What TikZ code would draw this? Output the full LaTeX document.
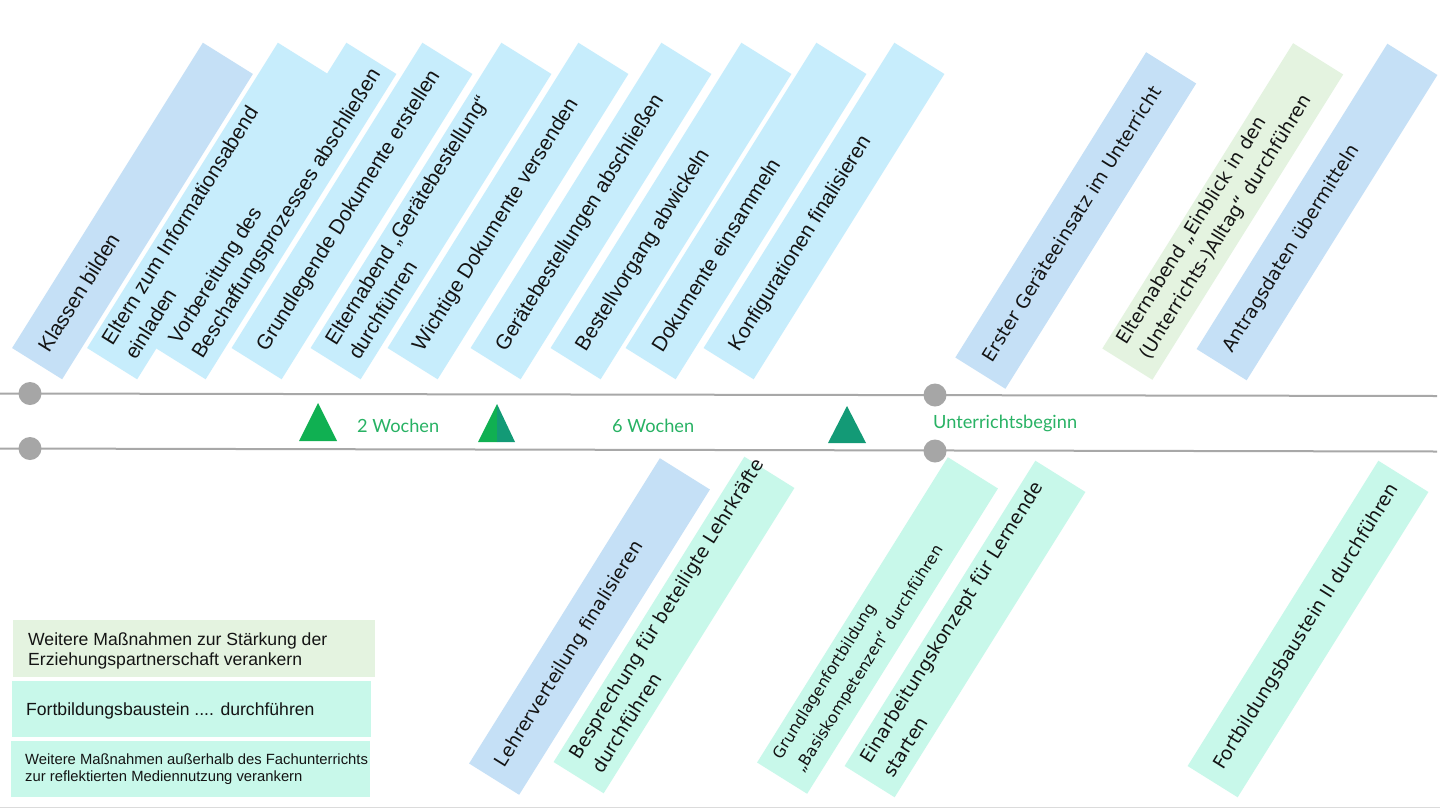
\documentclass[tikz,border=0pt]{standalone}
\usepackage{fontspec}
\setmainfont{Liberation Sans}
\newfontfamily\vfont{DejaVu Sans}
\newfontfamily\mfont{Lato}
\usetikzlibrary{calc}
\definecolor{cblue}{RGB}{197,224,246}
\definecolor{ccyan}{RGB}{199,237,252}
\definecolor{cgreen}{RGB}{228,243,224}
\definecolor{cmint}{RGB}{200,248,234}
\definecolor{lgray}{RGB}{168,168,168}
\definecolor{dotgray}{RGB}{166,166,166}
\definecolor{mgreen}{RGB}{16,176,82}
\definecolor{mteal}{RGB}{19,154,118}
\definecolor{mtext}{RGB}{40,178,100}
\definecolor{tblack}{RGB}{20,20,20}
\begin{document}
\begin{tikzpicture}[x=1pt,y=-1pt,
  slab/.style={rectangle, draw=none, inner sep=0pt, minimum width=360pt, minimum height=59pt, rotate=58},
  slabtxt/.style={rotate=58, anchor=west, align=left, inner sep=0pt, xshift=15pt, text=tblack},
  fa/.style={font=\fontsize{20.7}{27.5}\selectfont, yshift=2.5pt},
  fv/.style={font=\vfont\fontsize{18.6}{27}\selectfont, yshift=2pt},
  fs/.style={font=\vfont\fontsize{15.8}{26}\selectfont, yshift=1.5pt},
  legbox/.style={rectangle, draw=none, inner sep=0pt, anchor=north west},
  legtxt/.style={anchor=west, align=left, inner sep=0pt, text=tblack},
  mtxt/.style={font=\mfont\fontsize{18.2}{21}\selectfont, text=mtext, inner sep=0pt},
  tline/.style={lgray, line width=2pt},
  dot/.style={dotgray}
]
\useasboundingbox (0,0) rectangle (1440,809);
\fill[white] (0,0) rectangle (1440,809);

% timeline
\draw[tline] (0,393.5) -- (1437,396);
\draw[tline] (0,448.5) -- (1437,451.5);
\draw[black!14, line width=1.5pt] (0,807.5) -- (1440,807.5);
\fill[dot] (30,393.5) circle[radius=11.5];
\fill[dot] (30,448.5) circle[radius=11.5];
\fill[dot] (935,395) circle[radius=11.5];
\fill[dot] (935,451) circle[radius=11.5];

% milestones
\fill[mgreen] (299,441) -- (318,403) -- (337,441) -- cycle;
\fill[mgreen] (478,442) -- (497,404) -- (497,442) -- cycle;
\fill[mteal] (497,442) -- (497,404) -- (515,442) -- cycle;
\fill[mteal] (828,443) -- (847,406) -- (866,443) -- cycle;
\node[mtxt, anchor=west] (w2) at (357,426) {2 Wochen};
\node[mtxt, anchor=west] (w6) at (612,426) {6 Wochen};
\node[mtxt, anchor=west] (ub) at (933,423.5) {Unterrichtsbeginn};

% top boxes
\node[slab, fill=cblue] (b1) at (132.5,211) {};
\node[slab, fill=ccyan] (b2) at (207.5,211) {};
\node[slab, fill=ccyan] (b3) at (276,211) {};
\node[slab, fill=ccyan] (b4) at (352,211) {};
\node[slab, fill=ccyan] (b5) at (431,211) {};
\node[slab, fill=ccyan] (b6) at (508,211) {};
\node[slab, fill=ccyan] (b7) at (591,211) {};
\node[slab, fill=ccyan] (b8) at (671,211) {};
\node[slab, fill=ccyan] (b9) at (746,211) {};
\node[slab, fill=ccyan] (b10) at (824,211) {};
\node[slab, fill=cblue] (b11) at (1075.75,220.5) {};
\node[slab, fill=cgreen] (b12) at (1222.75,211.5) {};
\node[slab, fill=cblue] (b13) at (1317,212) {};

\node[slabtxt, fa] (t1) at (b1.west) {Klassen bilden};
\node[slabtxt, fa] (t2) at (b2.west) {Eltern zum Informationsabend\\einladen};
\node[slabtxt, fa] (t3) at (b3.west) {Vorbereitung des\\Beschaffungsprozesses abschließen};
\node[slabtxt, fa] (t4) at (b4.west) {Grundlegende Dokumente erstellen};
\node[slabtxt, fa] (t5) at (b5.west) {Elternabend „Gerätebestellung“\\durchführen};
\node[slabtxt, fa] (t6) at (b6.west) {Wichtige Dokumente versenden};
\node[slabtxt, fa] (t7) at (b7.west) {Gerätebestellungen abschließen};
\node[slabtxt, fa] (t8) at (b8.west) {Bestellvorgang abwickeln};
\node[slabtxt, fa] (t9) at (b9.west) {Dokumente einsammeln};
\node[slabtxt, fa] (t10) at (b10.west) {Konfigurationen finalisieren};
\node[slabtxt, fv] (t11) at (b11.west) {Erster Geräteeinsatz im Unterricht};
\node[slabtxt, fv] (t12) at (b12.west) {Elternabend „Einblick in den\\(Unterrichts-)Alltag“ durchführen};
\node[slabtxt, fv] (t13) at (b13.west) {Antragsdaten übermitteln};

% bottom boxes
\node[slab, fill=cblue] (b14) at (589.5,626.5) {};
\node[slab, fill=cmint] (b15) at (674,625) {};
\node[slab, fill=cmint] (b16) at (877.5,625.5) {};
\node[slab, fill=cmint] (b17) at (965,629) {};
\node[slab, fill=cmint] (b18) at (1308,629) {};

\node[slabtxt, fv] (t14) at (b14.west) {Lehrerverteilung finalisieren};
\node[slabtxt, fv] (t15) at (b15.west) {Besprechung für beteiligte Lehrkräfte\\durchführen};
\node[slabtxt, fs] (t16) at (b16.west) {Grundlagenfortbildung\\„Basiskompetenzen“ durchführen};
\node[slabtxt, fv] (t17) at (b17.west) {Einarbeitungskonzept für Lernende\\starten};
\node[slabtxt, fv] (t18) at (b18.west) {Fortbildungsbaustein II durchführen};

% legend
\node[legbox, fill=cgreen, minimum width=362pt, minimum height=57pt] (l1) at (13,620) {};
\node[legbox, fill=cmint, minimum width=359pt, minimum height=56pt] (l2) at (12,681) {};
\node[legbox, fill=cmint, minimum width=359pt, minimum height=56pt] (l3) at (11,741) {};
\node[legtxt, font=\fontsize{17.6}{20.5}\selectfont] (lt1) at (28,651) {Weitere Maßnahmen zur Stärkung der\\Erziehungspartnerschaft verankern};
\node[legtxt, font=\fontsize{17.6}{20.5}\selectfont, anchor=base west] (lt2) at (26,715) {Fortbildungsbaustein .... durchführen};
\node[legtxt, font=\fontsize{14.8}{16.8}\selectfont] (lt3) at (25,769.5) {Weitere Maßnahmen außerhalb des Fachunterrichts\\zur reflektierten Mediennutzung verankern};
\end{tikzpicture}
\end{document}
